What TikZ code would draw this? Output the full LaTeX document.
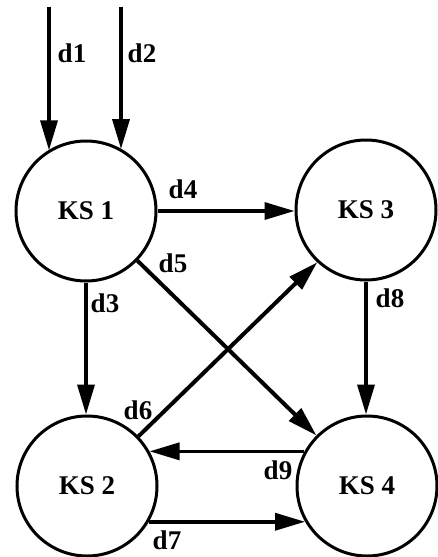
\documentclass[tikz,border=0pt]{standalone}
\usepackage{fontspec}
\setmainfont{Liberation Serif}
\usetikzlibrary{arrows.meta}
\begin{document}
\begin{tikzpicture}[x=1pt,y=-1pt,
  ks/.style={circle,draw,line width=3pt,minimum size=140pt,inner sep=0pt,font=\fontsize{27}{30}\selectfont\bfseries},
  lbl/.style={font=\fontsize{27}{30}\selectfont\bfseries,inner sep=0pt},
  flow/.style={line width=3.5pt,-{Triangle[length=30pt,width=17pt]}}]
\useasboundingbox (0,0) rectangle (438,557);
\node[ks] (KS1) at (86,211) {KS 1};
\node[ks] (KS3) at (366,210) {KS 3};
\node[ks] (KS2) at (87,486) {KS 2};
\node[ks] (KS4) at (367,486) {KS 4};
\coordinate (t1) at (49,7);
\coordinate (t2) at (121,7);
\draw[flow] (t1) -- (t1 |- KS1.122);
\draw[flow] (t2) -- (t2 |- KS1.60);
\draw[flow] (KS1.east) -- (KS1.east -| KS3.west);
\draw[flow,line width=4pt] (KS1.-44) -- (KS4.135);
\draw[flow] (KS1.south) -- (KS1.south |- KS2.north);
\draw[flow,line width=4pt] (KS2.44) -- (KS3.227);
\draw[flow] (KS3.south) -- (KS3.south |- KS4.north);
\draw[flow] (KS4.151) -- (KS2.29);
\draw[flow] (KS2.-30) -- (KS4.-150);
\node[lbl] (l1) at (72,53) {d1};
\node[lbl] (l2) at (142,53) {d2};
\node[lbl] (l4) at (183,189) {d4};
\node[lbl] (l5) at (173,263) {d5};
\node[lbl] (l3) at (105,303) {d3};
\node[lbl] (l8) at (390,298) {d8};
\node[lbl] (l6) at (138,410) {d6};
\node[lbl] (l9) at (278,470) {d9};
\node[lbl] (l7) at (167,540) {d7};
\end{tikzpicture}
\end{document}
